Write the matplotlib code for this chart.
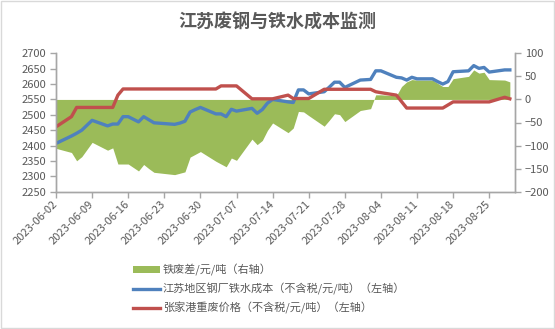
import matplotlib
matplotlib.use("Agg")
import matplotlib.pyplot as plt
import matplotlib.dates as mdates
import matplotlib.patches as mpatches
import pandas as pd

plt.rcParams['font.family'] = ['Noto Sans CJK SC', 'DejaVu Sans']

title = "江苏废钢与铁水成本监测"
label_diff = "铁废差/元/吨（右轴）"
label_cost = "江苏地区钢厂铁水成本（不含税/元/吨）（左轴）"
label_scrap = "张家港重废价格（不含税/元/吨）（左轴）"

dates = pd.to_datetime([
    "2023-06-02", "2023-06-05", "2023-06-06", "2023-06-07", "2023-06-09",
    "2023-06-12", "2023-06-13", "2023-06-14", "2023-06-15", "2023-06-16",
    "2023-06-18", "2023-06-19", "2023-06-20", "2023-06-21", "2023-06-25",
    "2023-06-26", "2023-06-27", "2023-06-28", "2023-06-29", "2023-06-30",
    "2023-07-03", "2023-07-04", "2023-07-05", "2023-07-06", "2023-07-07",
    "2023-07-10", "2023-07-11", "2023-07-12", "2023-07-13", "2023-07-14",
    "2023-07-17", "2023-07-18", "2023-07-19", "2023-07-20", "2023-07-21",
    "2023-07-24", "2023-07-25", "2023-07-26", "2023-07-27", "2023-07-28",
    "2023-07-31", "2023-08-01", "2023-08-02", "2023-08-03", "2023-08-04",
    "2023-08-07", "2023-08-08", "2023-08-09", "2023-08-10", "2023-08-11",
    "2023-08-14", "2023-08-15", "2023-08-16", "2023-08-17", "2023-08-18",
    "2023-08-21", "2023-08-22", "2023-08-23", "2023-08-24", "2023-08-25",
    "2023-08-28", "2023-08-29",
])

hot_metal_cost = [
    2407, 2431, 2440, 2450, 2482,
    2464, 2470, 2470, 2494, 2494,
    2477, 2494, 2484, 2474, 2469,
    2473, 2479, 2509, 2517, 2524,
    2503, 2503, 2494, 2518, 2512,
    2521, 2505, 2517, 2538, 2550,
    2542, 2540, 2581, 2581, 2568,
    2575, 2590, 2606, 2606, 2589,
    2613, 2614, 2615, 2643, 2643,
    2622, 2620, 2613, 2622, 2617,
    2617, 2608, 2600, 2608, 2640,
    2643, 2660, 2651, 2654, 2639,
    2646, 2646,
]

scrap_price = [
    2461, 2494, 2524, 2524, 2524,
    2524, 2524, 2564, 2584, 2584,
    2584, 2584, 2584, 2584, 2584,
    2584, 2584, 2584, 2584, 2584,
    2584, 2594, 2594, 2594, 2594,
    2552, 2552, 2552, 2552, 2552,
    2564, 2553, 2553, 2553, 2553,
    2583, 2583, 2583, 2583, 2583,
    2583, 2583, 2583, 2575, 2572,
    2564, 2543, 2522, 2522, 2522,
    2522, 2522, 2522, 2532, 2542,
    2542, 2542, 2542, 2542, 2542,
    2557, 2552,
]

iron_scrap_diff = [
    -106, -115, -133, -124, -93,
    -110, -105, -140, -140, -140,
    -155, -141, -150, -158, -163,
    -160, -157, -125, -119, -113,
    -134, -140, -146, -127, -132,
    -86, -98, -89, -67, -51,
    -72, -62, -26, -27, -35,
    -58, -45, -31, -33, -48,
    -24, -22, -20, 10, 10,
    8, 28, 38, 43, 42,
    42, 35, 28, 28, 45,
    50, 64, 57, 59, 43,
    42, 38,
]

tick_dates = pd.date_range("2023-06-02", "2023-08-25", freq="7D")
left_ticks = list(range(2250, 2701, 50))
right_ticks = list(range(-200, 101, 50))

GREEN = "#9BBB59"
BLUE = "#4F81BD"
RED = "#C0504D"
TXT = "#595959"
AXC = "#A6A6A6"

fig = plt.figure(figsize=(5.55, 3.29), dpi=100)
fig.patches.append(mpatches.Rectangle((0.002, 0.003), 0.996, 0.994, transform=fig.transFigure,
                                      fill=False, edgecolor="#D9D9D9", lw=1.0))

ax1 = fig.add_axes([56 / 555, 1 - 191.7 / 329, (515 - 56) / 555, (191.7 - 53.3) / 329])
ax2 = ax1.twinx()

area = ax2.fill_between(dates, 0, iron_scrap_diff, color=GREEN, linewidth=0, label=label_diff)
l1, = ax1.plot(dates, hot_metal_cost, color=BLUE, lw=2.4, label=label_cost, solid_joinstyle='round')
l2, = ax1.plot(dates, scrap_price, color=RED, lw=2.4, label=label_scrap, solid_joinstyle='round')

ax1.set_zorder(ax2.get_zorder() + 1)
ax1.patch.set_visible(False)

ax1.set_ylim(2250, 2700)
ax1.set_yticks(left_ticks)
ax2.set_ylim(-200, 100)
ax2.set_yticks(right_ticks)
ax1.set_xlim(pd.Timestamp("2023-06-02"), pd.Timestamp("2023-08-30"))
ax1.set_xticks(tick_dates)
ax1.set_xticklabels([d.strftime("%Y-%m-%d") for d in tick_dates], rotation=45,
                    ha="right", va="center", rotation_mode="anchor")

for ax in (ax1, ax2):
    ax.spines["top"].set_visible(False)
    for s in ("left", "right", "bottom"):
        ax.spines[s].set_color(AXC)
        ax.spines[s].set_linewidth(1.0)
    ax.tick_params(axis="both", colors=AXC, labelcolor=TXT, labelsize=8, length=4, width=1.0)
ax1.tick_params(axis="x", pad=4)
ax1.tick_params(axis="y", pad=3)
ax2.tick_params(axis="y", pad=3)
for lab in ax2.get_yticklabels():
    lab.set_ha("left")

fig.text(277.5 / 555, 1 - 22 / 329, title, ha="center", va="center", fontsize=13,
         fontweight="bold", color=TXT)

leg = fig.legend(handles=[area, l1, l2], loc="upper left",
                 bbox_to_anchor=(133 / 555, 1 - 264 / 329), frameon=False,
                 fontsize=8, handlelength=2.4, handleheight=0.5, handletextpad=0.3,
                 labelspacing=0.62, borderpad=0, borderaxespad=0)
for t in leg.get_texts():
    t.set_color(TXT)

fig.savefig("out.png", dpi=100)
